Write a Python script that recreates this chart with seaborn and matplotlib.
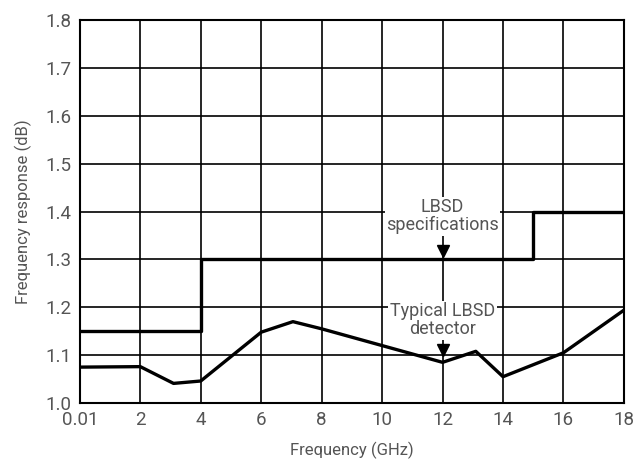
import numpy as np
import pandas as pd
import seaborn as sns
import matplotlib.pyplot as plt

# Data
spec_freq = [0.01, 4, 15, 18]
spec_db = [1.15, 1.30, 1.40, 1.40]

typ_freq = [0.01, 2, 3.1, 4, 6, 7.05, 8, 10, 12, 13.1, 14, 16, 18]
typ_db = [1.075, 1.076, 1.041, 1.046, 1.148, 1.170, 1.155, 1.12, 1.085, 1.108, 1.055, 1.105, 1.194]

x_ticks = [0.01, 2, 4, 6, 8, 10, 12, 14, 16, 18]
x_labels = ["0.01", "2", "4", "6", "8", "10", "12", "14", "16", "18"]
y_ticks = [1.0, 1.1, 1.2, 1.3, 1.4, 1.5, 1.6, 1.7, 1.8]

df_spec = pd.DataFrame({"freq": spec_freq, "db": spec_db})
df_typ = pd.DataFrame({"freq": typ_freq, "db": typ_db})

sns.set_theme(style="white")
plt.rcParams['font.family'] = ['Roboto', 'DejaVu Sans']
txt_color = "#555555"

fig = plt.figure(figsize=(6.36, 4.67), dpi=100)
ax = fig.add_axes([0.126, 0.137, 0.855, 0.82])

sns.lineplot(data=df_spec, x="freq", y="db", ax=ax, color="black", lw=2.4,
             drawstyle="steps-post", zorder=3)
sns.lineplot(data=df_typ, x="freq", y="db", ax=ax, color="black", lw=2.4,
             sort=False, zorder=3)

ax.set_xlim(0.01, 18)
ax.set_ylim(1.0, 1.8)
ax.set_xticks(x_ticks)
ax.set_xticklabels(x_labels)
ax.set_yticks(y_ticks)
ax.set_yticklabels([f"{v:.1f}" for v in y_ticks])
ax.grid(True, color="black", lw=1.2)
ax.set_axisbelow(True)
for s in ax.spines.values():
    s.set_color("black")
    s.set_linewidth(1.5)
ax.tick_params(axis="both", length=0, pad=6, labelsize=13.5, labelcolor=txt_color)

ax.set_xlabel("Frequency (GHz)", fontsize=12, color=txt_color, labelpad=9)
ax.set_ylabel("Frequency response (dB)", fontsize=12, color=txt_color, labelpad=10)

# annotations
ax.text(12, 1.39, "LBSD\nspecifications", ha="center", va="center", fontsize=13,
        color=txt_color, linespacing=1.0, zorder=4,
        bbox=dict(facecolor="white", edgecolor="none", pad=1))
ax.text(12, 1.173, "Typical LBSD\ndetector", ha="center", va="center", fontsize=13,
        color=txt_color, linespacing=1.0, zorder=4,
        bbox=dict(facecolor="white", edgecolor="none", pad=1))
ax.plot([12], [1.318], marker="v", color="black", markersize=8.5, zorder=5)
ax.plot([12], [1.110], marker="v", color="black", markersize=8.5, zorder=5)

fig.savefig("out.png", dpi=100)
